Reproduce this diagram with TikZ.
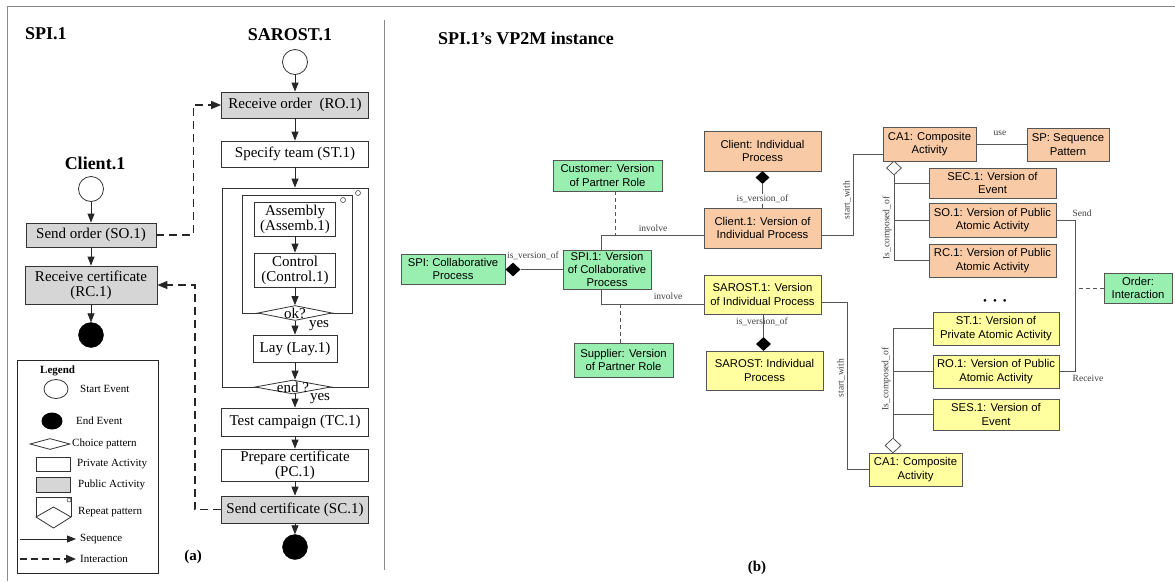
\documentclass[tikz,border=0pt]{standalone}
\usepackage{fontspec}
\setmainfont{Liberation Serif}
\newfontfamily\arialf{Liberation Sans}
\usetikzlibrary{shapes.geometric,arrows.meta,calc}

\definecolor{peach}{HTML}{F8CBA6}
\definecolor{mint}{HTML}{99EFB0}
\definecolor{lemon}{HTML}{FFFFA0}
\definecolor{pubgray}{HTML}{D6D6D6}
\definecolor{edgegray}{HTML}{555555}
\definecolor{framegray}{HTML}{8A8A8A}

\tikzset{
  act/.style={draw=black!80, line width=0.8pt, fill=white, inner sep=0pt, align=center,
    font=\fontsize{15}{15}\selectfont},
  pub/.style={act, fill=pubgray},
  plain/.style={inner sep=0pt, font=\fontsize{15}{15}\selectfont},
  startev/.style={circle, draw=black!80, line width=0.8pt, fill=white, minimum size=25pt, inner sep=0pt},
  endev/.style={circle, fill=black, draw=black, minimum size=25pt, inner sep=0pt},
  choice/.style={diamond, draw=black!80, fill=white, line width=0.8pt, inner sep=0pt},
  repbox/.style={draw=black!80, line width=0.8pt, inner sep=0pt},
  tinyring/.style={circle, draw=black!80, line width=0.5pt, minimum size=5pt, inner sep=0pt},
  seq/.style={draw=black!85, line width=0.8pt, -{Triangle[length=9pt,width=7pt]}},
  inter/.style={draw=black!85, line width=1.3pt, dash pattern=on 8pt off 5pt,
    -{Triangle[length=10pt,width=8pt]}},
  heading/.style={inner sep=0pt, font=\fontsize{18}{20}\selectfont\bfseries},
  ltext/.style={anchor=west, inner sep=0pt, font=\fontsize{11}{12}\selectfont},
  vbox/.style={draw=edgegray, line width=0.8pt, inner sep=0pt, align=center,
    font=\arialf\fontsize{11.3}{13.3}\selectfont},
  rel/.style={draw=edgegray, line width=0.8pt},
  reldash/.style={rel, dash pattern=on 4pt off 3pt},
  rlabel/.style={inner sep=1pt, text=black!75, font=\fontsize{9.5}{10}\selectfont},
  dfill/.style={diamond, fill=black, inner sep=0pt},
  dhollow/.style={diamond, draw=edgegray, line width=0.8pt, fill=white, inner sep=0pt},
}

\begin{document}
\begin{tikzpicture}[x=1pt,y=-1pt]
\useasboundingbox (0,0) rectangle (1175,581);
\fill[white] (0,0) rectangle (1175,581);

% frame and panel separator
\draw[framegray, line width=1pt] (7,581) -- (7,6) -- (1175,6);
\draw[framegray, line width=1pt] (384,20) -- (384,570);

% ---------------- panel (a) ----------------
\node[heading, anchor=west] (spit) at (25,34) {SPI.1};
\node[heading] (sarostt) at (290,35) {SAROST.1};
\node[heading] (clientt) at (95,163) {Client.1};

% SAROST.1 flow
\node[startev] (sst) at (295,62) {};
\node[pub, minimum width=147, minimum height=26] (ro) at (295,105) {Receive order~ (RO.1)};
\node[act, minimum width=147, minimum height=26] (st) at (295,154) {Specify team (ST.1)};
\node[repbox, minimum width=146, minimum height=199] (rep) at (295,287.5) {};
\node[repbox, minimum width=110, minimum height=118] (rin) at (297,254) {};
\node[tinyring] (repo) at (358,193) {};
\node[tinyring] (rino) at (343,200) {};
\node[act, minimum width=81, minimum height=34] (asm) at (295,219) {Assembly\\(Assemb.1)};
\node[act, minimum width=81, minimum height=34] (ctl) at (295,270) {Control\\(Control.1)};
\node[choice, minimum width=74, minimum height=15] (ok) at (295,313) {};
\node[plain] (oktx) at (ok) {ok?};
\node[plain] (yes1) at (319,326) {yes};
\node[act, minimum width=84, minimum height=27] (lay) at (295,348.5) {Lay (Lay.1)};
\node[choice, minimum width=76, minimum height=14] (endq) at (293,387) {};
\node[plain] (endqtx) at (endq) {end ?};
\node[plain] (yes2) at (320,399) {yes};
\node[act, minimum width=147, minimum height=28] (tc) at (295,422) {Test campaign (TC.1)};
\node[act, minimum width=147, minimum height=32] (pc) at (295,465) {Prepare certificate\\(PC.1)};
\node[pub, minimum width=147, minimum height=27] (sc) at (295,509.5) {Send certificate (SC.1)};
\node[endev] (send) at (295,547) {};

\draw[seq] (sst) -- (ro);
\draw[seq] (ro) -- (st);
\draw[seq] (st) -- (rep.north);
\draw[seq] (asm) -- (ctl);
\draw[seq] (ctl) -- (ok.north);
\draw[seq] (ok.south) -- (lay);
\draw[seq] (lay) -- (lay.south |- endq.north);
\draw[seq] (lay.south |- endq.south) -- (tc);
\draw[seq] (tc) -- (pc);
\draw[seq] (pc) -- (sc);
\draw[seq] (sc) -- (send);

% Client.1 flow
\node[startev] (cst) at (91,189) {};
\node[pub, minimum width=130, minimum height=24] (so) at (91,235) {Send order (SO.1)};
\node[pub, minimum width=132, minimum height=38] (rc) at (91,285) {Receive certificate\\(RC.1)};
\node[endev] (cend) at (91,335) {};
\draw[seq] (cst) -- (so);
\draw[seq] (so) -- (rc);
\draw[seq] (rc) -- (cend);

% interactions
\draw[inter] (so.east) -- ++(37,0) |- (ro.west);
\draw[inter] (sc.west) -- ++(-26,0) |- (rc.east);

% legend
\node[draw=black!85, line width=1pt, minimum width=141, minimum height=213, inner sep=0pt] (leg) at (87.5,466.5) {};
\node[inner sep=0pt, anchor=west, font=\fontsize{11}{12}\selectfont\bfseries] (legt) at (40,371) {Legend};
\node[ellipse, draw=black!80, line width=0.8pt, minimum width=24, minimum height=19, inner sep=0pt] (lst) at (56,389) {};
\node[ltext] (lstt) at (80,389) {Start Event};
\node[ellipse, fill=black, minimum width=21, minimum height=17, inner sep=0pt] (len) at (52,421) {};
\node[ltext] (lent) at (76,421) {End Event};
\node[choice, minimum width=40, minimum height=11] (lch) at (50,444) {};
\node[ltext] (lcht) at (72,444) {Choice pattern};
\node[draw=black!80, line width=0.8pt, minimum width=34, minimum height=14, inner sep=0pt] (lpr) at (53,464) {};
\node[ltext] (lprt) at (77,464) {Private Activity};
\node[draw=black!80, line width=0.8pt, fill=pubgray, minimum width=34, minimum height=15, inner sep=0pt] (lpu) at (53,484.5) {};
\node[ltext] (lput) at (78,484.5) {Public Activity};
\draw[black!80, line width=0.8pt] (36,517) -- (36,497) -- (71,497) -- (71,517);
\draw[black!80, line width=0.8pt, fill=white] (36,517) -- (53.5,507) -- (71,517) -- (53.5,528) -- cycle;
\node[tinyring, minimum size=4pt] (lrr) at (69,500) {};
\node[ltext] (lrpt) at (78,512) {Repeat pattern};
\coordinate (lsa) at (20,539);
\coordinate (lsb) at (76,539);
\draw[seq] (lsa) -- (lsb);
\node[ltext] (lsqt) at (80,539) {Sequence};
\coordinate (lia) at (20,559);
\coordinate (lib) at (76,559);
\draw[inter, line width=1.8pt, dash pattern=on 7pt off 4pt] (lia) -- (lib);
\node[ltext] (lint) at (80,559) {Interaction};

\node[inner sep=0pt, font=\fontsize{15}{15}\selectfont\bfseries] (capa) at (193,557) {(a)};

% ---------------- panel (b) ----------------
\node[heading] (vp2m) at (526,38) {SPI.1's VP2M instance};

\node[vbox, fill=mint, minimum width=109, minimum height=31] (cust) at (607.5,175.5) {Customer: Version\\of Partner Role};
\node[vbox, fill=mint, minimum width=104, minimum height=30] (spi) at (453,269) {SPI: Collaborative\\Process};
\node[vbox, fill=mint, minimum width=88, minimum height=39, font=\arialf\fontsize{11.3}{12.6}\selectfont] (spi1) at (607,269.5) {SPI.1: Version\\of Collaborative\\Process};
\node[vbox, fill=mint, minimum width=99, minimum height=34] (supp) at (623.5,360) {Supplier: Version\\of Partner Role};
\node[vbox, fill=peach, minimum width=117, minimum height=40] (client) at (762.5,151) {Client: Individual\\Process};
\node[vbox, fill=peach, minimum width=117, minimum height=40] (client1) at (762.5,228) {Client.1: Version of\\Individual Process};
\node[vbox, fill=lemon, minimum width=117, minimum height=39] (sarost1) at (762.5,294.5) {SAROST.1: Version\\of Individual Process};
\node[vbox, fill=lemon, minimum width=117, minimum height=39] (sarost) at (764.5,370.5) {SAROST: Individual\\Process};
\node[vbox, fill=peach, minimum width=93, minimum height=34] (ca1a) at (929.5,144) {CA1: Composite\\Activity};
\node[vbox, fill=peach, minimum width=82, minimum height=33] (sp) at (1068,144.5) {SP: Sequence\\Pattern};
\node[vbox, fill=peach, minimum width=127, minimum height=30] (sec1) at (992.5,183) {SEC.1: Version of\\Event};
\node[vbox, fill=peach, minimum width=127, minimum height=34] (so1) at (992.5,220) {SO.1: Version of Public\\Atomic Activity};
\node[vbox, fill=peach, minimum width=127, minimum height=33] (rc1) at (992.5,260.5) {RC.1: Version of Public\\Atomic Activity};
\node[vbox, fill=mint, minimum width=68, minimum height=30] (order) at (1138,288) {Order:\\Interaction};
\node[inner sep=0pt, font=\fontsize{11}{11}\selectfont] (dots) at (995,302) {\textbullet\hspace{6pt}\textbullet\hspace{6pt}\textbullet};
\node[vbox, fill=lemon, minimum width=126, minimum height=33] (st1) at (996,328.5) {ST.1: Version of\\Private Atomic Activity};
\node[vbox, fill=lemon, minimum width=126, minimum height=33] (ro1) at (996,371.5) {RO.1: Version of Public\\Atomic Activity};
\node[vbox, fill=lemon, minimum width=126, minimum height=31] (ses1) at (996,414.5) {SES.1: Version of\\Event};
\node[vbox, fill=lemon, minimum width=93, minimum height=33] (ca1b) at (915.5,469.5) {CA1: Composite\\Activity};

% is_version_of links
\node[dfill, minimum width=15, minimum height=14] (dspi) at (513,269.5) {};
\draw[rel] (dspi.east) -- (spi1.west);
\node[rlabel] (lv1) at (533,256) {is\_version\_of};

\node[dfill, minimum width=14, minimum height=13] (dcli) at (762.5,177.5) {};
\draw[rel] (dcli.south) -- (dcli.south |- client1.north);
\node[rlabel, fill=white] (lv2) at (762.5,199) {is\_version\_of};

\node[rlabel] (lv3) at (762,322) {is\_version\_of};
\node[dfill, minimum width=15, minimum height=14] (dsar) at (763.5,344) {};
\draw[rel] (dsar.north) -- (dsar.north |- sarost1.south);

% involve links and partner roles
\coordinate (ix) at (601,0);
\coordinate (inv1) at ($(client1.west)+(0,7)$);
\coordinate (inv2) at ($(sarost1.west)+(0,9.5)$);
\draw[rel] (spi1.north -| ix) |- (inv1);
\draw[rel] (spi1.south -| ix) |- (inv2);
\node[rlabel] (linv1) at (653,228) {involve};
\node[rlabel] (linv2) at (668,296) {involve};
\coordinate (custfoot) at ($(cust.south)+(7.5,0)$);
\draw[reldash] (custfoot) -- (custfoot |- inv1);
\coordinate (suppfoot) at ($(supp.north)+(-3.5,0)$);
\draw[reldash] (suppfoot) -- (suppfoot |- inv2);

% start_with links
\coordinate (sw1) at ($(client1.east)+(0,7)$);
\coordinate (sw1b) at ($(ca1a.west)+(0,10)$);
\coordinate (swx) at (853,0);
\draw[rel] (sw1) -- (sw1 -| swx) -- (sw1b -| swx) -- (sw1b);
\node[rlabel, rotate=90] (lsw1) at (847,200) {start\_with};

\coordinate (sw2) at ($(sarost1.east)+(0,7.5)$);
\coordinate (swx2) at (847,0);
\draw[rel] (sw2) -- (sw2 -| swx2) -- (ca1b.west -| swx2) -- (ca1b.west);
\node[rlabel, rotate=90] (lsw2) at (841,378) {start\_with};

% use
\draw[rel] (ca1a.east) -- (ca1a.east -| sp.west);
\node[rlabel] (luse) at (1000,133) {use};

% composition of CA1 (Client.1)
\node[dhollow, minimum width=15, minimum height=14] (dtop) at (894,168) {};
\draw[rel] (dtop.south) -- (dtop.south |- rc1.west) -- (rc1.west);
\draw[rel] (dtop.south |- sec1.west) -- (sec1.west);
\draw[rel] (dtop.south |- so1.west) -- (so1.west);
\node[rlabel, rotate=90] (lcomp1) at (887,228) {Is\_composed\_of};

% composition of CA1 (SAROST.1)
\node[dhollow, minimum width=16, minimum height=15] (dbot) at (893,445.5) {};
\draw[rel] (dbot.north) -- (dbot.north |- st1.west) -- (st1.west);
\draw[rel] (dbot.north |- ro1.west) -- (ro1.west);
\draw[rel] (dbot.north |- ses1.west) -- (ses1.west);
\node[rlabel, rotate=90] (lcomp2) at (886,379) {Is\_composed\_of};

% Send / Receive and the Order interaction
\coordinate (srx) at (1075,0);
\draw[rel] (so1.east) -- (so1.east -| srx) -- (ro1.east -| srx) -- (ro1.east);
\draw[reldash] (order.west) -- (order.west -| srx);
\node[rlabel] (lsend) at (1082,213) {Send};
\node[rlabel] (lrecv) at (1088,378) {Receive};

\node[inner sep=0pt, font=\fontsize{15}{15}\selectfont\bfseries] (capb) at (757,568) {(b)};
\end{tikzpicture}
\end{document}
